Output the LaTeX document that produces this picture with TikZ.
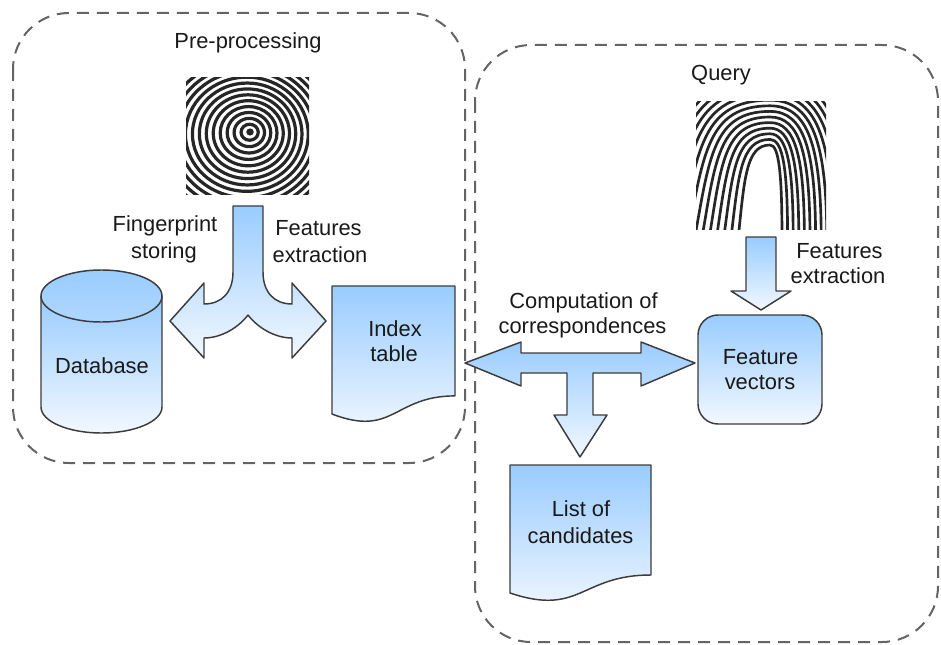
\documentclass[tikz,border=0pt]{standalone}
\usepackage{fontspec}
\setmainfont{Liberation Sans}
\definecolor{topblue}{RGB}{153,204,255}
\definecolor{botblue}{RGB}{242,248,255}
\definecolor{edgegray}{RGB}{60,60,60}
\definecolor{dashgray}{RGB}{100,100,100}
\begin{document}
\begin{tikzpicture}[x=0.75pt,y=-0.75pt,
  txt/.style={font=\fontsize{16.4}{20}\selectfont, inner sep=0pt, anchor=base, text=black!90},
  grp/.style={draw=dashgray, line width=1.5pt, dash pattern=on 9pt off 6pt, rounded corners=42pt},
  blk/.style={draw=edgegray, line width=1.1pt, top color=topblue, bottom color=botblue, line join=round},
  ridge/.style={line width=2.4pt, black!85},
  ridgeb/.style={line width=2.0pt, black!85},
]
\useasboundingbox (0,0) rectangle (941,645);

% group frames
\draw[grp] (13,13) rectangle (465,463);
\draw[grp] (475,45) rectangle (938,642);

% fingerprint 1 (whorl)
\begin{scope}
  \clip (186,78) rectangle (309,195);
  \fill[white] (186,78) rectangle (309,195);
  \foreach \k in {0,...,15}{
    \pgfmathsetmacro\rr{(2+6.6*\k)*0.75}
    \pgfmathsetmacro\cx{250-0.35*\k}
    \pgfmathsetmacro\cy{132+0.25*\k}
    \draw[ridge] (\cx,\cy) ellipse [x radius=\rr pt, y radius=0.93*\rr pt];
  }
\end{scope}

% fingerprint 2 (loop)
\begin{scope}
  \clip (696,102) rectangle (826,229);
  \fill[white] (696,102) rectangle (826,229);
  \foreach \k in {0,...,30}{
    \pgfmathsetmacro\d{5.6*\k}
    \pgfmathsetmacro\Lx{738-1.3*\d}
    \pgfmathsetmacro\Ay{145-\d}
    \pgfmathsetmacro\Rx{782+1.0*\d}
    \draw[ridgeb] (\Lx,240) .. controls ({\Lx+0.2*(770-\Lx)},{240-0.65*(240-\Ay)}) and ({770-0.75*(770-\Lx)},\Ay) .. (770,\Ay) .. controls ({770+0.75*(\Rx-770)},\Ay) and (\Rx,{\Ay+0.3*(240-\Ay)}) .. (\Rx,240);
  }
\end{scope}

% database cylinder
\path[blk] (41,296) -- (41,407) .. controls (41,421.36) and (68.09,433) .. (101.5,433)
  .. controls (134.91,433) and (162,421.36) .. (162,407) -- (162,296) -- cycle;
\path[draw=edgegray, line width=1.1pt, top color=topblue, bottom color=topblue!75!botblue]
  (101.5,296) ellipse [x radius=45.375pt, y radius=19.5pt];
\node[txt] (db) at (102,373) {Database};

% split arrow (pre-processing)
\path[blk] (233,206) -- (263,206) -- (263,272) .. controls (263,292) and (274,304) .. (292,304)
  -- (292,283) -- (326,321) -- (292,358) -- (292,338)
  .. controls (275,338) and (258,328) .. (248,315)
  .. controls (238,328) and (221,338) .. (204,338)
  -- (204,358) -- (170,321) -- (204,283) -- (204,304)
  .. controls (222,304) and (233,292) .. (233,272) -- cycle;

% index table (document)
\path[blk] (332,286) -- (455,286) -- (455,395.9) .. controls (393.5,395.9) and (393.5,437.7) .. (332,414) -- cycle;
\node[txt] (it1) at (395,336) {Index};
\node[txt] (it2) at (394,361) {table};

% T arrow (correspondences)
\path[blk] (465,363) -- (521,342) -- (521,353) -- (641,353) -- (641,342) -- (695,363)
  -- (641,386) -- (641,373) -- (593,373) -- (593,415) -- (607,415) -- (580,457)
  -- (554,415) -- (567,415) -- (567,373) -- (521,373) -- (521,386) -- cycle;

% small down arrow (query)
\path[blk] (746,237) -- (776,237) -- (776,291) -- (791,291) -- (761,310) -- (731,291) -- (746,291) -- cycle;

% feature vectors
\node[blk, rounded corners=15pt, minimum width=93pt, minimum height=81.75pt, inner sep=0pt] (fv) at (760,369.5) {};
\node[txt] (fv1) at (760.5,364) {Feature};
\node[txt] (fv2) at (760,389) {vectors};

% list of candidates (document)
\path[blk] (510,465) -- (651,465) -- (651,575) .. controls (580.5,575) and (580.5,616.7) .. (510,593) -- cycle;
\node[txt] (lc1) at (581,516) {List of};
\node[txt] (lc2) at (580.5,543) {candidates};

% labels
\node[txt] (pre) at (248,49) {Pre-processing};
\node[txt] (qry) at (721,81) {Query};
\node[txt] (fs1) at (165,232) {Fingerprint};
\node[txt] (fs2) at (164,258) {storing};
\node[txt] (fe1) at (318.5,235) {Features};
\node[txt] (fe2) at (320,262) {extraction};
\node[txt] (cc1) at (583.5,308) {Computation of};
\node[txt] (cc2) at (582.5,333) {correspondences};
\node[txt] (fr1) at (839.5,258) {Features};
\node[txt] (fr2) at (838,283) {extraction};
\end{tikzpicture}
\end{document}
